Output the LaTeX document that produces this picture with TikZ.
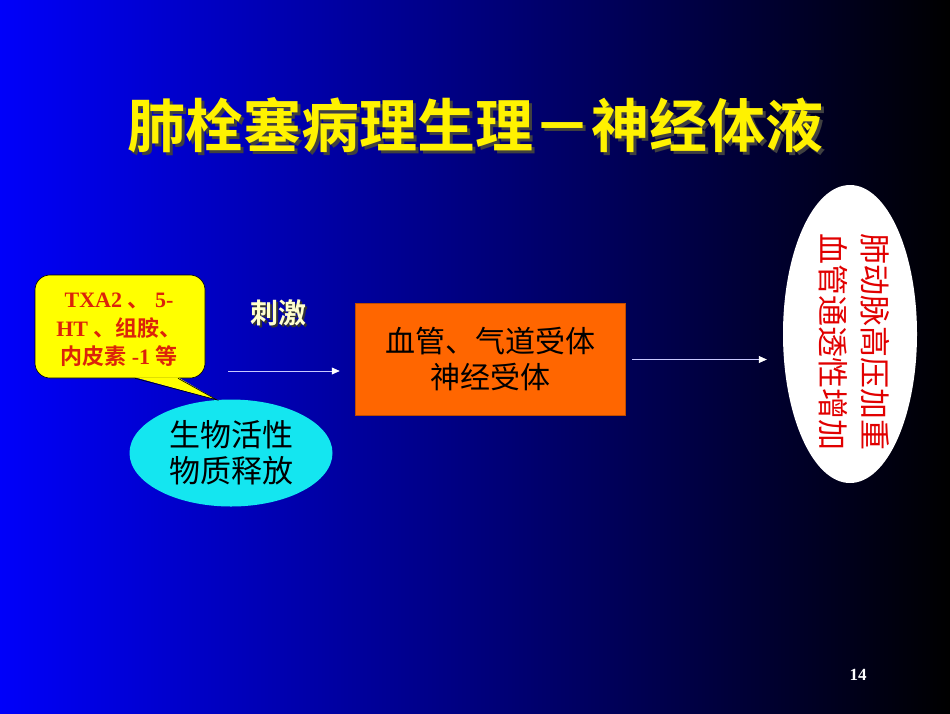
\documentclass[tikz,border=0pt]{standalone}
\usepackage{fontspec}
\setmainfont{Liberation Serif}
\newfontfamily\cjk{Noto Sans CJK SC}[BoldFont={Noto Sans CJK SC Bold}]
\usetikzlibrary{arrows.meta,shapes.geometric,positioning}

\definecolor{slideblue}{RGB}{0,0,250}
\definecolor{slidemid}{RGB}{0,0,115}
\definecolor{calloutyellow}{RGB}{255,255,0}
\definecolor{agentred}{RGB}{220,35,10}
\definecolor{releasecyan}{RGB}{20,230,240}
\definecolor{boxorange}{RGB}{255,102,0}
\definecolor{effectred}{RGB}{225,0,0}
\definecolor{stimcream}{RGB}{255,255,205}
\definecolor{arrowline}{RGB}{200,200,255}

\begin{document}
\begin{tikzpicture}[x=1pt,y=-1pt,
    block/.style={rectangle,draw=boxorange!75!black,line width=0.5pt,fill=boxorange,minimum width=270pt,minimum height=112pt,align=center,font=\cjk\fontsize{30}{36}\selectfont},
    release/.style={ellipse,fill=releasecyan,minimum width=203pt,minimum height=107pt,inner sep=0pt,align=center,font=\cjk\fontsize{31}{36}\selectfont},
    result/.style={ellipse,fill=white,minimum width=134pt,minimum height=298pt,inner sep=0pt},
    agent/.style={rectangle,rounded corners=15pt,draw=black,line width=0.6pt,fill=calloutyellow,minimum width=170pt,minimum height=103pt,inner sep=0pt,align=center,text=agentred,font=\bfseries\fontsize{22}{28.5}\selectfont},
    headline/.style={font=\cjk\bfseries\fontsize{58}{60}\selectfont},
    stim/.style={font=\cjk\bfseries\fontsize{28}{30}\selectfont},
    arrow/.style={-{Triangle[length=8pt,width=7pt,color=white]},line width=0.6pt,arrowline}
]

% === Background ===
\useasboundingbox (0,0) rectangle (950,713);
\shade[left color=slideblue,middle color=slidemid,right color=black] (0,0) rectangle (950,713);

% === Title ===
\node[headline,text=black!75] (titleshadow) at (478,128) {肺栓塞病理生理－神经体液};
\node[headline,text=yellow] (title) at (475,125) {肺栓塞病理生理－神经体液};

% === Callout: agents ===
\node[agent] (agents) at (120,326.5) {};
\node[align=center,text=agentred,font=\bfseries\fontsize{22}{28.5}\selectfont] (agenttext) at (119,330) {TXA2 {\cjk 、} 5-\\HT {\cjk 、组胺、}\\{\cjk 内皮素} -1 {\cjk 等}};

% Released substances
\node[release] (bio) at (231,453) {生物活性\\物质释放};

% Callout tail
\fill[calloutyellow] ([xshift=15pt,yshift=1pt]agents.south) -- (bio.105) -- ([xshift=58pt,yshift=1pt]agents.south) -- cycle;
\draw[line width=0.6pt] ([xshift=15pt]agents.south) -- (bio.105) -- ([xshift=58pt]agents.south);

% === Stimulus ===
\node[stim,text=black!80] (stimshadow) at (280,315) {刺激};
\node[stim,text=stimcream] (stimtext) at (278,313) {刺激};

% === Receptors ===
\node[block] (box) at (490,359.5) {血管、气道受体\\神经受体};

% === Effect ===
\node[result] (effect) at (850,334) {};
\node[rotate=-90,align=center,text=effectred,font=\cjk\fontsize{31}{42}\selectfont] (effectlabel) at (854,342) {肺动脉高压加重\\血管通透性增加};

% Arrows
\coordinate (stimstart) at (228,371);
\draw[arrow] (stimstart) -- ([xshift=-15pt]stimstart -| box.west);
\draw[arrow,shorten <=7pt,shorten >=16pt] (box.east) -- (box.east -| effect.west);

% Page number
\node[text=white,font=\bfseries\fontsize{17}{20}\selectfont] (pagenum) at (858,675) {14};

\end{tikzpicture}
\end{document}
